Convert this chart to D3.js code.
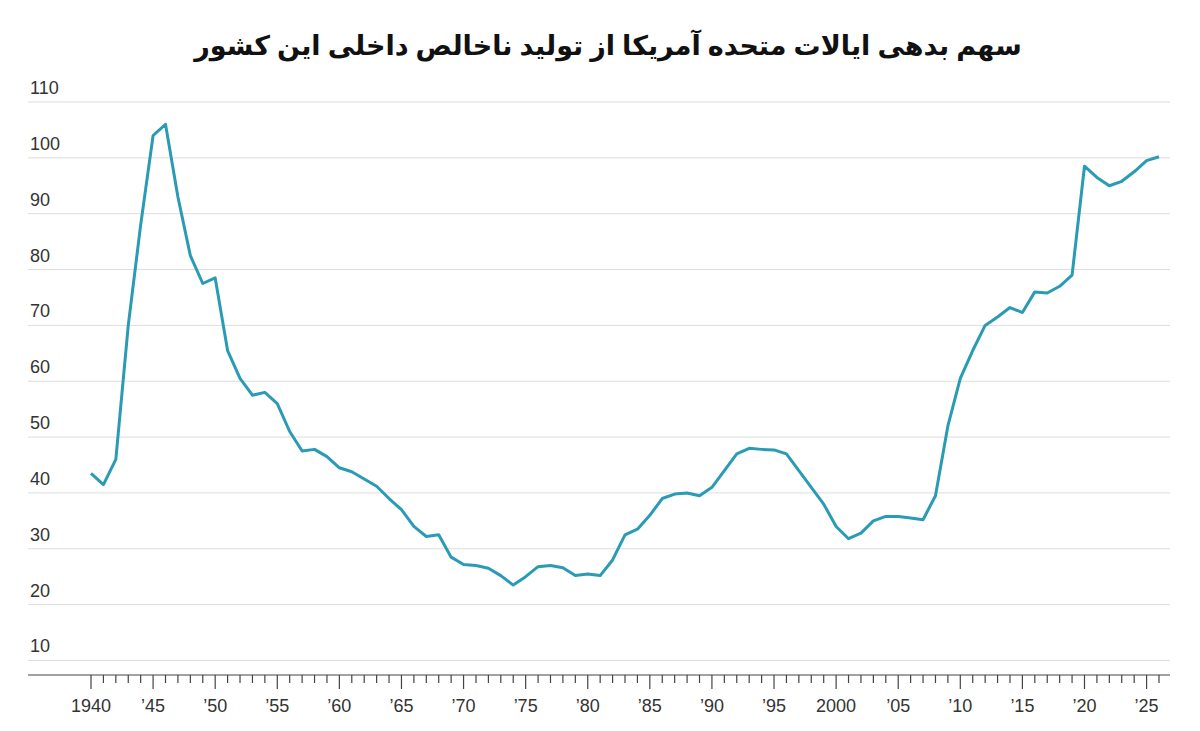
<!DOCTYPE html>
<html><head><meta charset="utf-8">
<script src="https://cdn.jsdelivr.net/npm/d3@7"></script>
<style>body{margin:0;background:#fff}</style></head>
<body><div id="chart"></div>
<script>
var title = "سهم بدهی ایالات متحده آمریکا از تولید ناخالص داخلی این کشور";
var years = d3.range(1940, 2027);
var debt = [43.5,41.5,46,70,88,104,106,93,82.5,77.5,78.5,65.5,60.5,57.5,58,56,51,47.5,47.8,46.5,
  44.5,43.8,42.5,41.2,39,37,34,32.2,32.5,28.5,27.2,27,26.5,25.2,23.5,25,26.8,27,26.6,25.2,
  25.5,25.2,28,32.5,33.5,36,39,39.8,40,39.5,41,44,47,48,47.8,47.7,47,44,41,38,
  34,31.8,32.8,35,35.8,35.8,35.5,35.2,39.5,52,60.5,65.5,70,71.5,73.2,72.3,76,75.8,77,79,
  98.5,96.5,95,95.8,97.5,99.5,100.2];
var yTicks = [10,20,30,40,50,60,70,80,90,100,110];
var xLabels = d3.range(1940, 2026, 5).map(function(y){
  return (y === 1940 || y === 2000) ? String(y) : "\u2019" + String(y).slice(2);
});

var w = 1200, h = 731;
var svg = d3.select("#chart").append("svg").attr("width", w).attr("height", h);

var x = d3.scaleLinear().domain([1940, 2026]).range([91, 1159]);
var y = d3.scaleLinear().domain([7.4, 110]).range([675, 102]);

svg.append("text").attr("x", 608).attr("y", 55).attr("text-anchor", "middle")
  .attr("font-family", "Noto Sans, DejaVu Sans").attr("font-weight", "bold")
  .attr("font-size", 27).attr("fill", "#111").text(title);

// gridlines + y labels
svg.selectAll(".grid").data(yTicks).enter().append("line")
  .attr("x1", 28).attr("x2", 1170)
  .attr("y1", function(d){ return y(d); }).attr("y2", function(d){ return y(d); })
  .attr("stroke", "#ddd").attr("stroke-width", 1);
svg.selectAll(".yl").data(yTicks).enter().append("text")
  .attr("x", 30).attr("y", function(d){ return y(d) - 8; })
  .attr("font-family", "Liberation Sans, Arial").attr("font-size", 18).attr("fill", "#333")
  .text(function(d){ return d; });

// x axis
svg.append("line").attr("x1", 28).attr("x2", 1170).attr("y1", 675).attr("y2", 675)
  .attr("stroke", "#444").attr("stroke-width", 1);
svg.selectAll(".tk").data(years).enter().append("line")
  .attr("x1", function(d){ return x(d); }).attr("x2", function(d){ return x(d); })
  .attr("y1", 675).attr("y2", function(d){ return d % 5 === 0 ? 689 : 683; })
  .attr("stroke", "#444").attr("stroke-width", 1.2);
svg.selectAll(".xl").data(d3.range(1940, 2026, 5)).enter().append("text")
  .attr("x", function(d){ return x(d); }).attr("y", 712).attr("text-anchor", "middle")
  .attr("font-family", "Liberation Sans, Arial").attr("font-size", 18).attr("fill", "#333")
  .text(function(d, i){ return xLabels[i]; });

var line = d3.line().x(function(d, i){ return x(years[i]); }).y(function(d){ return y(d); });
svg.append("path").datum(debt).attr("d", line).attr("fill", "none")
  .attr("stroke", "#2a9bb5").attr("stroke-width", 3).attr("stroke-linejoin", "round");
</script></body></html>
